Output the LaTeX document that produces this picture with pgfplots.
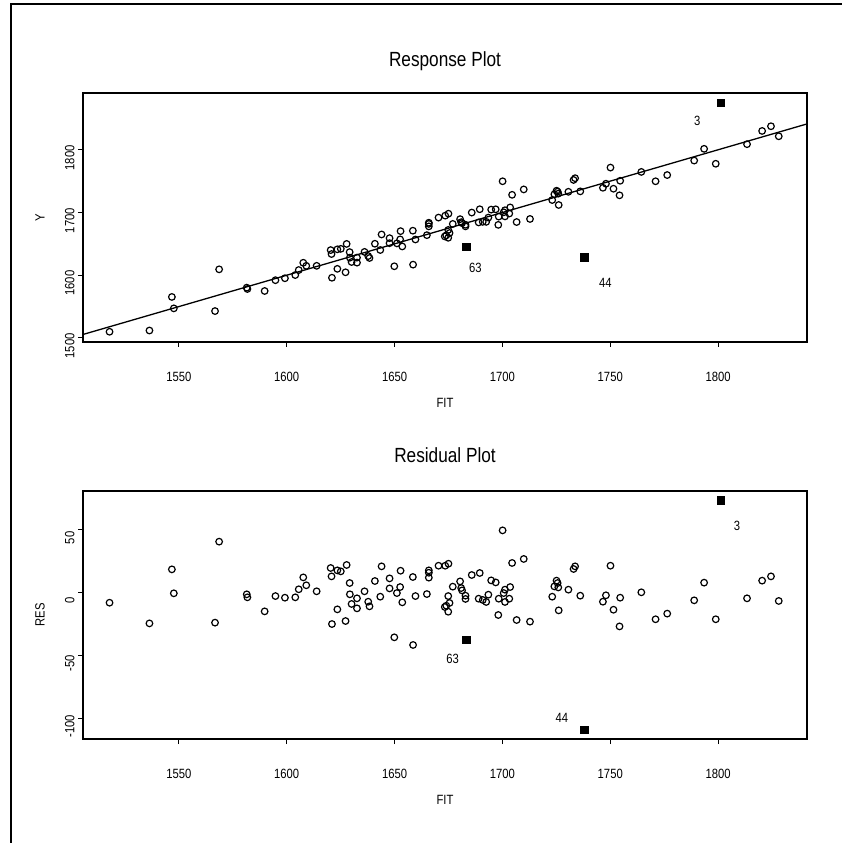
\documentclass[border=0pt]{standalone}
\usepackage{fontspec}
\setmainfont{Liberation Sans}[FakeStretch=0.84]
\usepackage{pgfplots}
\usepackage{pgfplotstable}
\pgfplotsset{compat=1.18}

% fitted value, residual, response
\pgfplotstableread{
fit res y
1517.9 -8.0 1509.9
1536.4 -24.5 1511.9
1546.8 18.6 1565.4
1547.7 -0.5 1547.2
1566.8 -23.9 1542.9
1568.7 40.7 1609.4
1581.5 -1.3 1580.2
1581.8 -3.7 1578.1
1589.8 -14.9 1574.9
1594.8 -2.7 1592.1
1599.2 -4.0 1595.2
1604.0 -3.7 1600.3
1605.6 2.7 1608.3
1607.7 12.2 1619.9
1609.1 5.9 1615.0
1613.9 1.1 1615.0
1620.4 19.7 1640.1
1620.8 13.0 1633.8
1621.0 -25.0 1596.0
1623.5 17.8 1641.3
1625.1 17.0 1642.1
1623.5 -13.3 1610.2
1627.8 22.1 1649.9
1627.3 -22.6 1604.7
1629.2 7.7 1636.9
1629.3 -1.3 1628.0
1630.1 -9.0 1621.1
1632.6 -4.5 1628.1
1632.6 -12.5 1620.1
1636.1 1.1 1637.2
1637.8 -7.2 1630.6
1638.4 -10.9 1627.5
1640.9 9.3 1650.2
1643.4 -3.2 1640.2
1644.0 21.0 1665.0
1647.7 11.4 1659.1
1647.7 3.4 1651.1
1649.9 -35.6 1614.3
1651.1 -0.3 1650.8
1652.6 4.5 1657.1
1652.8 17.5 1670.3
1653.6 -7.7 1645.9
1658.5 12.5 1671.0
1658.6 -41.7 1616.9
1659.7 -2.7 1657.0
1665.0 -1.1 1663.9
1665.9 17.8 1683.7
1665.9 15.9 1681.8
1665.9 12.0 1677.9
1670.4 21.5 1691.9
1673.5 21.5 1695.0
1675.0 23.1 1698.1
1673.3 -11.4 1661.9
1674.0 -10.4 1663.6
1674.9 -15.2 1659.7
1675.5 -8.2 1667.3
1674.9 -2.7 1672.2
1677.0 4.8 1681.8
1680.4 9.0 1689.4
1680.9 3.7 1684.6
1681.3 1.8 1683.1
1682.9 -2.4 1680.5
1682.9 -5.0 1677.9
1685.8 14.1 1699.9
1689.0 -4.8 1684.2
1689.5 15.7 1705.2
1690.9 -5.8 1685.1
1692.5 -7.4 1685.1
1693.5 -1.6 1691.9
1694.8 9.8 1704.6
1696.9 8.2 1705.1
1698.3 -4.8 1693.5
1698.1 -17.8 1680.3
1700.1 49.7 1749.8
1700.6 -0.3 1700.3
1701.2 2.4 1703.6
1701.2 -7.4 1693.8
1703.2 -4.8 1698.4
1703.6 4.5 1708.1
1704.5 23.7 1728.2
1706.6 -21.8 1684.8
1709.9 26.9 1736.8
1712.8 -23.1 1689.7
1723.1 -3.2 1719.9
1724.1 5.0 1729.1
1725.1 9.6 1734.7
1725.6 7.7 1733.3
1725.9 4.2 1730.1
1726.1 -14.1 1712.0
1730.6 2.4 1733.0
1733.0 18.9 1751.9
1733.7 21.0 1754.7
1736.1 -2.4 1733.7
1746.6 -7.2 1739.4
1748.0 -2.1 1745.9
1750.1 21.5 1771.6
1751.5 -13.6 1737.9
1754.6 -4.0 1750.6
1754.3 -26.9 1727.4
1764.4 0.3 1764.7
1771.0 -21.2 1749.8
1776.4 -16.7 1759.7
1788.9 -6.1 1782.8
1793.5 8.0 1801.5
1798.9 -21.2 1777.7
1813.4 -4.5 1808.9
1820.4 9.6 1830.0
1824.5 13.0 1837.5
1828.1 -6.6 1821.5
}\pts

% cases 63, 44, 3
\pgfplotstableread{
fit res y
1683.3 -37.7 1645.6
1738.0 -109.3 1628.7
1801.1 73.9 1875.0
}\outl

\newcommand\lblfont{\fontsize{13.4}{15}\selectfont}

\pgfplotsset{
  rplot/.style={
    scale only axis,
    width=724pt,
    xmin=1505.6, xmax=1841.2,
    xtick={1550,1600,...,1800},
    tick align=outside, tick pos=left,
    major tick length=5pt,
    every tick/.style={black, line width=1pt},
    axis line style={line width=1.1pt},
    /pgf/number format/assume math mode=true,
    /pgf/number format/1000 sep={},
    tick label style={font=\lblfont},
    xticklabel style={yshift=-22pt},
    yticklabel style={rotate=90, anchor=south, xshift=-8pt},
    every axis x label/.style={at={(rel axis cs:0.5,0)}, yshift=-61pt, anchor=center, font=\lblfont},
    every axis y label/.style={at={(rel axis cs:0,0.5)}, xshift=-43pt, rotate=90, anchor=center, font=\lblfont},
    xlabel=FIT,
  },
  pts/.style={only marks, mark=o, mark size=3.3pt, line width=1.2pt, black},
  outl/.style={only marks, mark=square*, mark size=3.7pt, black},
}

\begin{document}
\begin{tikzpicture}
\useasboundingbox (0pt,0pt) rectangle (842pt,843pt);
\draw[line width=1.6pt] (11pt,0pt) -- (11pt,839pt) -- (843pt,839pt);

\begin{axis}[rplot,
  at={(83pt,501pt)}, anchor=south west,
  height=249pt,
  ymin=1493.6, ymax=1890.5,
  ytick={1500,1600,1700,1800},
  ylabel=Y,
  title=Response Plot,
  every axis title/.style={at={(rel axis cs:0.5,1)}, yshift=32pt, anchor=center, font=\fontsize{20.5}{24}\selectfont},
]
\addplot[black, line width=1.3pt] coordinates {(1500,1500) (1850,1850)};
\addplot[pts] table[x=fit, y=y] {\pts};
\addplot[outl] table[x=fit, y=y] {\outl};
\node[font=\lblfont] at (axis cs:1687.5,1612.2) {63};
\node[font=\lblfont] at (axis cs:1747.7,1587.8) {44};
\node[font=\lblfont] at (axis cs:1790.3,1846) {3};
\end{axis}

\begin{axis}[rplot,
  at={(83pt,104pt)}, anchor=south west,
  height=248pt,
  ymin=-116.7, ymax=81.1,
  ytick={-100,-50,0,50},
  ylabel=RES,
  title=Residual Plot,
  every axis title/.style={at={(rel axis cs:0.5,1)}, yshift=36pt, anchor=center, font=\fontsize{20.5}{24}\selectfont},
]
\addplot[pts] table[x=fit, y=res] {\pts};
\addplot[outl] table[x=fit, y=res] {\outl};
\node[font=\lblfont] at (axis cs:1808.8,53.4) {3};
\node[font=\lblfont] at (axis cs:1676.9,-52.6) {63};
\node[font=\lblfont] at (axis cs:1727.6,-99.7) {44};
\end{axis}
\end{tikzpicture}
\end{document}
